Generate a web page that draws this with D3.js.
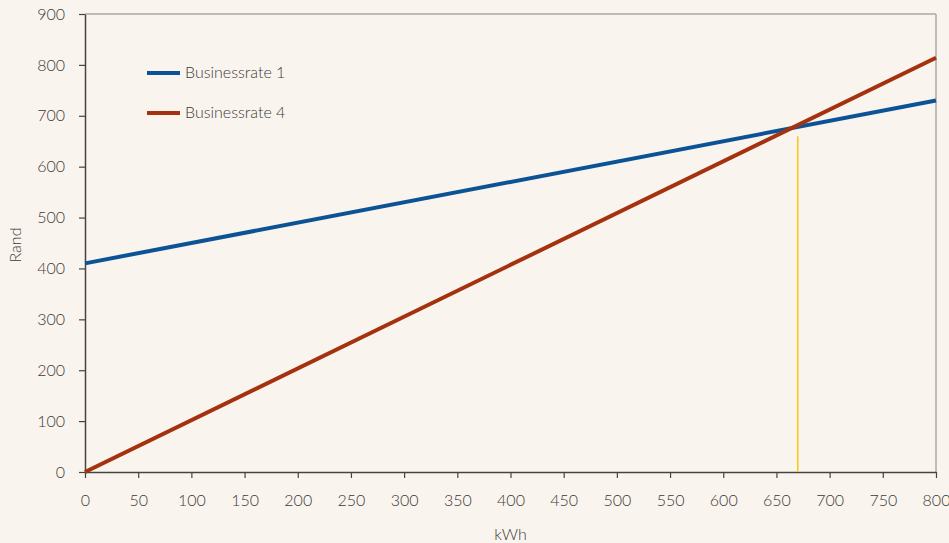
<!DOCTYPE html>
<html><head><meta charset="utf-8">
<script src="https://cdn.jsdelivr.net/npm/d3@7"></script>
<style>html,body{margin:0;padding:0;background:#FAF4EE;}svg{display:block;}</style>
</head><body>
<script>
const seriesNames = ["Businessrate 1", "Businessrate 4"];
const seriesColors = ["#0B5396", "#A5320F"];
const kwh = [0, 800];
const rate1 = [410, 730];
const rate4 = [0, 814];
const breakEvenX = 670;
const breakEvenY = 660;
const xTicks = d3.range(0, 801, 50);
const yTicks = d3.range(0, 901, 100);

const W = 949, H = 543;
const m = {l: 85, r: 13, t: 14, b: 71};
const svg = d3.select("body").append("svg").attr("width", W).attr("height", H);
svg.append("rect").attr("width", W).attr("height", H).attr("fill", "#FAF4EE");
const x = d3.scaleLinear().domain([0, 800]).range([m.l, W - m.r]);
const y = d3.scaleLinear().domain([0, 900]).range([H - m.b, m.t]);
const font = "Lato, 'Open Sans', sans-serif";
const fs = "16px";

// border top/right
svg.append("line").attr("x1", x(0)).attr("x2", x(800)).attr("y1", y(900)).attr("y2", y(900)).attr("stroke", "#aaa").attr("stroke-width", 1.5);
svg.append("line").attr("x1", x(800)).attr("x2", x(800)).attr("y1", y(900)).attr("y2", y(0)).attr("stroke", "#aaa").attr("stroke-width", 1.5);

const xAxis = svg.append("g").attr("transform", `translate(0,${y(0)})`)
  .call(d3.axisBottom(x).tickValues(xTicks).tickSize(6).tickPadding(17).tickSizeOuter(0));
const yAxis = svg.append("g").attr("transform", `translate(${x(0)},0)`)
  .call(d3.axisLeft(y).tickValues(yTicks).tickSize(6).tickPadding(14).tickSizeOuter(0));
[xAxis, yAxis].forEach(g => {
  g.select(".domain").attr("stroke", "#444").attr("stroke-width", 1.5);
  g.selectAll(".tick line").attr("stroke", "#444").attr("stroke-width", 1.2);
  g.selectAll("text").attr("fill", "#3a3a3a").style("font-family", font).style("font-size", fs).style("font-weight", 300);
});

// break-even marker
svg.append("line").attr("x1", x(breakEvenX)).attr("x2", x(breakEvenX)).attr("y1", y(0)).attr("y2", y(breakEvenY))
  .attr("stroke", "#F5C518").attr("stroke-width", 1.5);

const line = d3.line().x(d => x(d[0])).y(d => y(d[1]));
[rate1, rate4].forEach((vals, i) => {
  svg.append("path").datum(kwh.map((k, j) => [k, vals[j]])).attr("d", line)
    .attr("fill", "none").attr("stroke", seriesColors[i]).attr("stroke-width", 4);
});

// legend
seriesNames.forEach((n, i) => {
  const ly = 73 + i * 40;
  svg.append("line").attr("x1", 147).attr("x2", 180).attr("y1", ly).attr("y2", ly)
    .attr("stroke", seriesColors[i]).attr("stroke-width", 4);
  svg.append("text").attr("x", 185).attr("y", ly - 1).attr("dy", "0.35em").text(n)
    .attr("fill", "#3a3a3a").style("font-family", font).style("font-size", fs).style("font-weight", 300);
});

svg.append("text").attr("x", (x(0) + x(800)) / 2).attr("y", 540).attr("text-anchor", "middle").text("kWh")
  .attr("fill", "#3a3a3a").style("font-family", font).style("font-size", fs).style("font-weight", 300);
svg.append("text").attr("transform", `translate(21,${(y(0) + y(900)) / 2 + 2}) rotate(-90)`).attr("text-anchor", "middle").text("Rand")
  .attr("fill", "#3a3a3a").style("font-family", font).style("font-size", fs).style("font-weight", 300);
</script>
</body></html>
